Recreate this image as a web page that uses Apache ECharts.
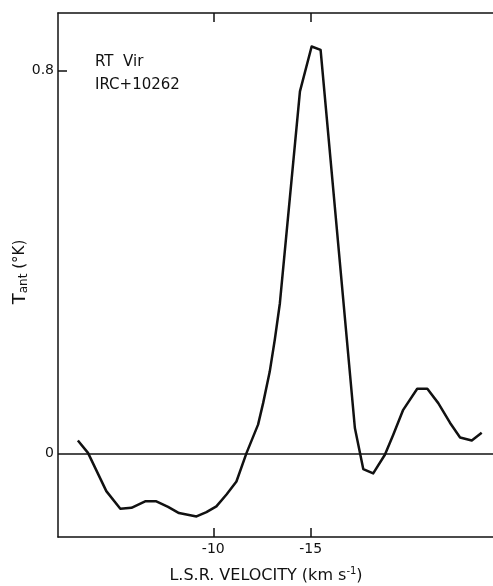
<!DOCTYPE html>
<html>
<head>
<meta charset="utf-8">
<script src="https://cdn.jsdelivr.net/npm/echarts@6/dist/echarts.min.js"></script>
<style>
  html, body { margin: 0; padding: 0; background: #fff; }
  #chart { width: 493px; height: 586px; }
</style>
</head>
<body>
<div id="chart"></div>
<script>
// L.S.R. velocity (km/s) and antenna temperature (°K)
const velocity = [-3.05, -3.57, -4.51, -5.23, -5.80, -6.53, -7.05, -7.68, -8.24, -9.14,
  -9.65, -10.16, -10.68, -11.19, -11.71, -12.30, -12.56, -12.90, -13.16, -13.42,
  -13.68, -14.45, -15.05, -15.51, -17.27, -17.70, -18.21, -18.81, -19.24, -19.75,
  -20.47, -20.99, -21.55, -22.15, -22.67, -23.27, -23.78];
const tant = [0.027, 0.001, -0.079, -0.116, -0.114, -0.100, -0.100, -0.112, -0.125, -0.132,
  -0.123, -0.111, -0.086, -0.059, 0.001, 0.060, 0.105, 0.171, 0.238, 0.314,
  0.426, 0.757, 0.851, 0.844, 0.053, -0.033, -0.042, -0.003, 0.039, 0.091,
  0.135, 0.135, 0.105, 0.064, 0.033, 0.027, 0.043];
const xTicks = [-10, -15];
const yTicks = [0, 0.8];
const sourceLines = ['RT  Vir', 'IRC+10262'];

const FONT = 'DejaVu Sans';
const INK = '#111';

const chart = echarts.init(document.getElementById('chart'), null, { renderer: 'canvas' });

const xCommon = {
  type: 'value',
  min: -24.36,
  max: -2.03,
  inverse: true,
  axisLine: { show: true, onZero: false, lineStyle: { color: INK, width: 1.5 } },
  axisTick: { show: true, inside: true, length: 9, customValues: xTicks, lineStyle: { color: INK, width: 1.5 } },
  splitLine: { show: false }
};

chart.setOption({
  animation: false,
  backgroundColor: '#fff',
  grid: { left: 58, right: 0, top: 13, bottom: 49 },
  xAxis: [
    Object.assign({}, xCommon, {
      position: 'bottom',
      axisLabel: {
        show: true, customValues: xTicks, margin: 5,
        color: INK, fontFamily: FONT, fontSize: 14,
        formatter: v => '-' + Math.abs(v)
      }
    }),
    Object.assign({}, xCommon, {
      position: 'top',
      axisLabel: { show: false }
    })
  ],
  yAxis: [{
    type: 'value',
    min: -0.175,
    max: 0.921,
    axisLine: { show: true, onZero: false, lineStyle: { color: INK, width: 1.5 } },
    axisTick: { show: true, inside: true, length: 9, customValues: [0.8], lineStyle: { color: INK, width: 1.5 } },
    axisLabel: {
      show: true, customValues: yTicks, margin: 4,
      color: INK, fontFamily: FONT, fontSize: 14,
      formatter: v => (v === 0 ? '0' : v.toFixed(1))
    },
    splitLine: { show: false }
  }],
  series: [{
    type: 'line',
    data: velocity.map((v, i) => [v, tant[i]]),
    showSymbol: false,
    symbol: 'none',
    lineStyle: { color: INK, width: 2.5, join: 'round' },
    markLine: {
      silent: true,
      symbol: 'none',
      label: { show: false },
      lineStyle: { color: INK, width: 1.5, type: 'solid' },
      data: [{ yAxis: 0 }]
    }
  }],
  graphic: [
    {
      type: 'text', left: 95, top: 51,
      style: { text: sourceLines.join('\n'), fill: INK, font: '15px ' + FONT, lineHeight: 23 }
    },
    {
      type: 'text',
      x: 11, y: 272,
      rotation: Math.PI / 2,
      style: {
        text: '{t|T}{s|ant} (°K)',
        fill: INK,
        align: 'center',
        verticalAlign: 'top',
        rich: {
          t: { font: '18px ' + FONT, fill: INK },
          s: { font: '12px ' + FONT, fill: INK, verticalAlign: 'bottom', padding: [7, 0, 0, 0] }
        },
        font: '15px ' + FONT
      }
    },
    {
      type: 'text', x: 266, y: 576,
      style: {
        text: 'L.S.R. VELOCITY (km s{sup|-1})',
        fill: INK,
        align: 'center',
        verticalAlign: 'middle',
        font: '16px ' + FONT,
        rich: { sup: { font: '10px ' + FONT, fill: INK, verticalAlign: 'top', padding: [0, 0, 9, 0] } }
      }
    }
  ]
});
</script>
</body>
</html>
